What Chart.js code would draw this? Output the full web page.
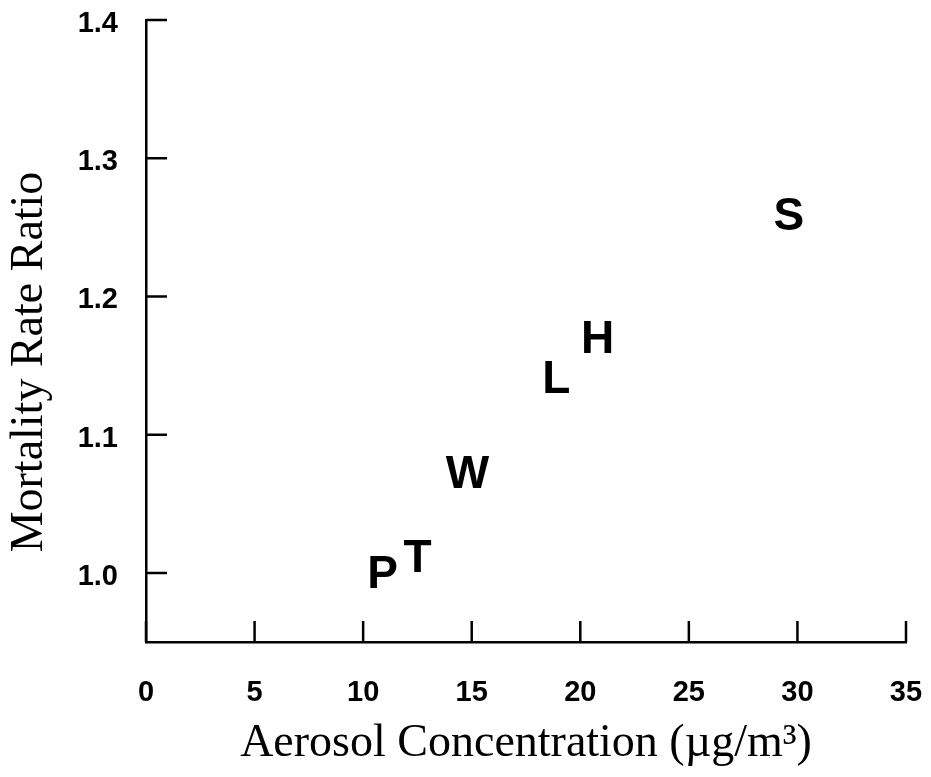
<!DOCTYPE html>
<html>
<head>
<meta charset="utf-8">
<script src="https://cdn.jsdelivr.net/npm/chart.js@4/dist/chart.umd.min.js"></script>
<style>
  html, body { margin: 0; padding: 0; background: #fff; }
  #wrap { width: 931px; height: 777px; }
</style>
</head>
<body>
<div id="wrap"><canvas id="myPlot" width="931" height="777"></canvas></div>
<script>
// city letters and values
const cities = ['P', 'T', 'W', 'L', 'H', 'S'];
const aerosol = [10.9, 12.5, 14.8, 18.9, 20.8, 29.6];
const mortality = [1.000, 1.011, 1.072, 1.141, 1.170, 1.259];

const xTicks = [0, 5, 10, 15, 20, 25, 30, 35];
const yTicks = [1.0, 1.1, 1.2, 1.3, 1.4];

const xTitle = 'Aerosol Concentration (µg/m³)';
const yTitle = 'Mortality Rate Ratio';

const points = aerosol.map((v, i) => ({ x: v, y: mortality[i] }));

const serif = '"Liberation Serif", "Times New Roman", serif';

// letters drawn at the point positions computed by chart.js
const letterPlugin = {
  id: 'letters',
  afterDatasetsDraw(chart) {
    const ctx = chart.ctx;
    const meta = chart.getDatasetMeta(0);
    ctx.save();
    ctx.fillStyle = '#000';
    ctx.font = 'bold 46px "Liberation Sans", Arial, sans-serif';
    ctx.textAlign = 'center';
    ctx.textBaseline = 'middle';
    meta.data.forEach((pt, i) => {
      ctx.fillText(cities[i], pt.x, pt.y + 2);
    });
    ctx.restore();
  }
};

// ticks pointing into the plot + the vertical title (sits a bit low in the original)
const innerTicks = {
  id: 'innerTicks',
  afterDraw(chart) {
    const ctx = chart.ctx;
    const xs = chart.scales.x, ys = chart.scales.y;
    const a = chart.chartArea;
    ctx.save();
    ctx.strokeStyle = '#000';
    ctx.lineWidth = 2.5;
    ctx.beginPath();
    xTicks.forEach(v => {
      const px = xs.getPixelForValue(v);
      ctx.moveTo(px, a.bottom);
      ctx.lineTo(px, a.bottom - 21);
    });
    yTicks.forEach(v => {
      const py = ys.getPixelForValue(v);
      ctx.moveTo(a.left, py);
      ctx.lineTo(a.left + 21, py);
    });
    ctx.stroke();

    ctx.translate(30, (a.top + a.bottom) / 2 + 31);
    ctx.rotate(-Math.PI / 2);
    ctx.fillStyle = '#000';
    ctx.font = '46px ' + serif;
    ctx.textAlign = 'center';
    ctx.textBaseline = 'middle';
    ctx.fillText(yTitle, 0, 0);
    ctx.restore();
  }
};

const tickFont = { family: '"Liberation Sans", Arial, sans-serif', size: 29, weight: 'bold' };

new Chart(document.getElementById('myPlot').getContext('2d'), {
  type: 'scatter',
  data: {
    datasets: [{
      data: points,
      pointRadius: 0,
      pointHoverRadius: 0,
      showLine: false
    }]
  },
  options: {
    responsive: false,
    animation: false,
    events: [],
    layout: { padding: { left: 0, right: 25, top: 20, bottom: 0 } },
    plugins: { legend: { display: false }, tooltip: { enabled: false } },
    scales: {
      x: {
        type: 'linear',
        min: 0,
        max: 35,
        afterBuildTicks: s => { s.ticks = xTicks.map(v => ({ value: v })); },
        afterFit: s => { s.height = 135; s.paddingLeft = 0; s.paddingRight = 0; },
        grid: { display: false, drawTicks: false },
        border: { display: true, color: '#000', width: 2.5 },
        ticks: { color: '#000', font: tickFont, padding: 34, maxRotation: 0 },
        title: {
          display: true,
          text: xTitle,
          color: '#000',
          font: { family: serif, size: 46 },
          padding: { top: 0, bottom: 5 }
        }
      },
      y: {
        type: 'linear',
        min: 0.95,
        max: 1.4,
        afterBuildTicks: s => { s.ticks = yTicks.map(v => ({ value: v })); },
        afterFit: s => { s.width = 146; s.paddingTop = 0; s.paddingBottom = 0; },
        grid: { display: false, drawTicks: false },
        border: { display: true, color: '#000', width: 2.5 },
        ticks: {
          color: '#000',
          font: tickFont,
          padding: 28,
          labelOffset: 4,
          callback: v => Number(v).toFixed(1)
        },
        title: { display: false }
      }
    }
  },
  plugins: [letterPlugin, innerTicks]
});
</script>
</body>
</html>
